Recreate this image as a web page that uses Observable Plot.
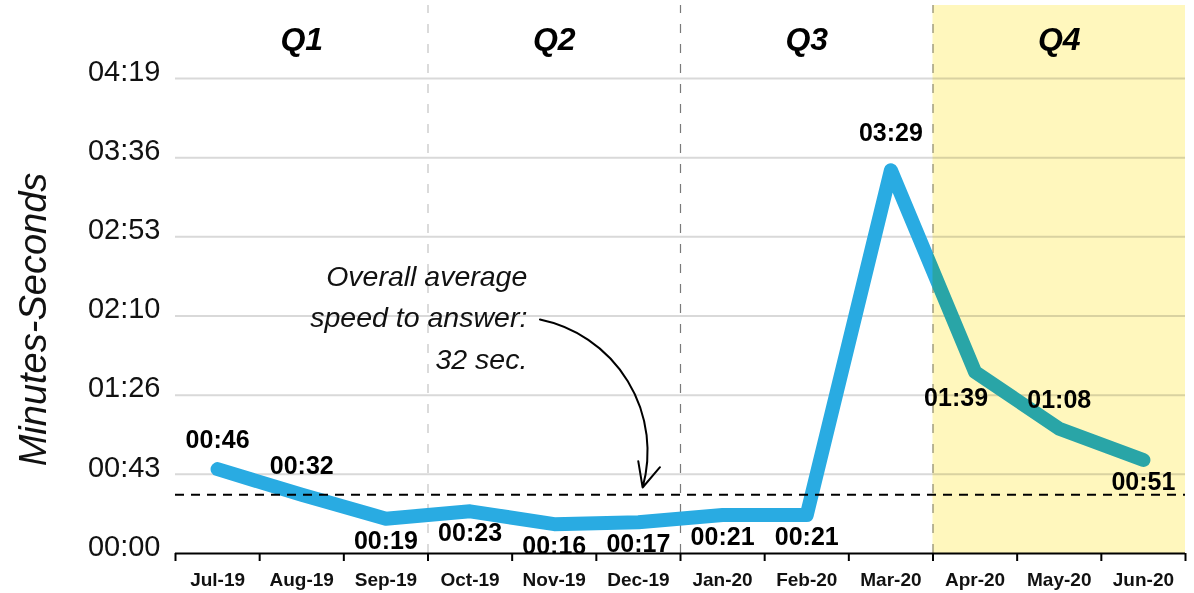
<!DOCTYPE html>
<html>
<head>
<meta charset="utf-8">
<script src="https://cdn.jsdelivr.net/npm/d3@7"></script>
<script src="https://cdn.jsdelivr.net/npm/@observablehq/plot@0.6"></script>
<style>
  html, body { margin: 0; padding: 0; background: #fff; }
  #chart svg { display: block; }
</style>
</head>
<body>
<div id="chart"></div>
<script>
// ---- data ----
const months = ["Jul-19","Aug-19","Sep-19","Oct-19","Nov-19","Dec-19","Jan-20","Feb-20","Mar-20","Apr-20","May-20","Jun-20"];
const seconds = [46, 32, 19, 23, 16, 17, 21, 21, 209, 99, 68, 51];
const quarters = ["Q1", "Q2", "Q3", "Q4"];
const yTickValues = [0, 43.17, 86.33, 129.5, 172.67, 215.83, 259];
const yTickLabels = ["00:00", "00:43", "01:26", "02:10", "02:53", "03:36", "04:19"];
const averageSeconds = 32;
const annotationText = "Overall average\nspeed to answer:\n32 sec.";
const yTitle = "Minutes-Seconds";
const labelAbove = ["Jul-19", "Aug-19", "May-20"];
const labelPeak = ["Mar-20"];
const labelShiftLeft = ["Apr-20"];

const fmt = s => {
  const t = Math.round(s);
  return String(Math.floor(t / 60)).padStart(2, "0") + ":" + String(t % 60).padStart(2, "0");
};

const data = months.map((m, i) => ({month: m, i, value: seconds[i], label: fmt(seconds[i])}));
const qdata = quarters.map((q, k) => ({q, x: k * 3 + 1}));
const boundaries = d3.range(0, 13).map(k => k - 0.5);
const yTop = 298.8;
const sans = "'Liberation Sans', Arial, sans-serif";
const lblStyle = {text: "label", fontSize: 25, fontWeight: "bold", fontFamily: sans, fill: "#000", ariaLabel: "narrow-text"};

const chart = Plot.plot({
  width: 1194,
  height: 593,
  marginLeft: 175,
  marginRight: 9,
  marginTop: 5,
  marginBottom: 40,
  x: {type: "linear", domain: [-0.5, 11.5], axis: null},
  y: {type: "linear", domain: [0, yTop], axis: null},
  marks: [
    Plot.ruleY(yTickValues.slice(1), {stroke: "#d9d9d9", strokeWidth: 2}),
    Plot.ruleX([2.5], {y1: 0, y2: yTop, stroke: "#c4c4c4", strokeWidth: 1.2, strokeDasharray: "9,11"}),
    Plot.ruleX([5.5], {y1: 0, y2: yTop, stroke: "#7a7a7a", strokeWidth: 1.2, strokeDasharray: "9,11"}),
    Plot.ruleX([8.5], {y1: 0, y2: yTop, stroke: "#8a8a8a", strokeWidth: 1.2, strokeDasharray: "9,11"}),
    Plot.line(data, {x: "i", y: "value", stroke: "#29abe2", strokeWidth: 14, strokeLinejoin: "round", strokeLinecap: "round"}),
    Plot.rect([{}], {x1: 8.5, x2: 11.5, y1: 0, y2: yTop, fill: "#fff7bd", mixBlendMode: "multiply"}),
    Plot.ruleY([averageSeconds], {stroke: "#000", strokeWidth: 2, strokeDasharray: "9,7"}),
    Plot.ruleY([0], {stroke: "#000", strokeWidth: 2}),
    Plot.axisX(boundaries, {tickSize: 8, tickFormat: () => "", stroke: "#000", strokeWidth: 2}),
    // x tick labels
    Plot.text(data, {x: "i", y: 0, dy: 26, text: "month", fontSize: 19, fontWeight: "bold", fontFamily: sans, fill: "#111", ariaLabel: "narrow-text"}),
    // y tick labels
    Plot.text(yTickValues, {x: -0.5, y: d => d, dx: -15, dy: -7, text: (d, i) => yTickLabels[i], textAnchor: "end", fontSize: 29, fontFamily: sans, fill: "#111"}),
    // y title
    Plot.text([yTitle], {frameAnchor: "left", textAnchor: "middle", dx: -142, dy: 40, rotate: -90, fontSize: 38, fontStyle: "italic", fontFamily: sans, fill: "#111"}),
    // quarter labels
    Plot.text(qdata, {x: "x", frameAnchor: "top", lineAnchor: "top", dy: 22, text: "q", fontSize: 32, fontWeight: "bold", fontStyle: "italic", fontFamily: sans, fill: "#000"}),
    // data labels
    Plot.text(data.filter(d => labelAbove.includes(d.month)), {x: "i", y: "value", dy: -29, ...lblStyle}),
    Plot.text(data.filter(d => labelPeak.includes(d.month)), {x: "i", y: "value", dy: -37, ...lblStyle}),
    Plot.text(data.filter(d => labelShiftLeft.includes(d.month)), {x: "i", y: "value", dx: -19, dy: 26, ...lblStyle}),
    Plot.text(data.filter(d => !labelAbove.includes(d.month) && !labelPeak.includes(d.month) && !labelShiftLeft.includes(d.month)), {x: "i", y: "value", dy: 22, ...lblStyle}),
    // annotation
    Plot.text([annotationText], {x: 3.68, y: 130.5, textAnchor: "end", lineHeight: 1.45, fontSize: 28.5, fontStyle: "italic", fontFamily: sans, fill: "#111"}),
    Plot.arrow([{}], {x1: 3.83, y1: 127.6, x2: 5.05, y2: 36, bend: 47, stroke: "#000", strokeWidth: 2, headLength: 20, headAngle: 50})
  ]
});

// condense the narrow-style labels horizontally (Arial Narrow look)
chart.querySelectorAll('g[aria-label="narrow-text"] text').forEach(el => {
  const x = el.getAttribute("x"), y = el.getAttribute("y");
  let t = el.getAttribute("transform") || "";
  if (x != null || y != null) {
    t = `translate(${x || 0},${y || 0}) ` + t;
    el.removeAttribute("x"); el.removeAttribute("y");
  }
  el.setAttribute("transform", t + " scale(0.83,1)");
});
document.getElementById("chart").appendChild(chart);
</script>
</body>
</html>
